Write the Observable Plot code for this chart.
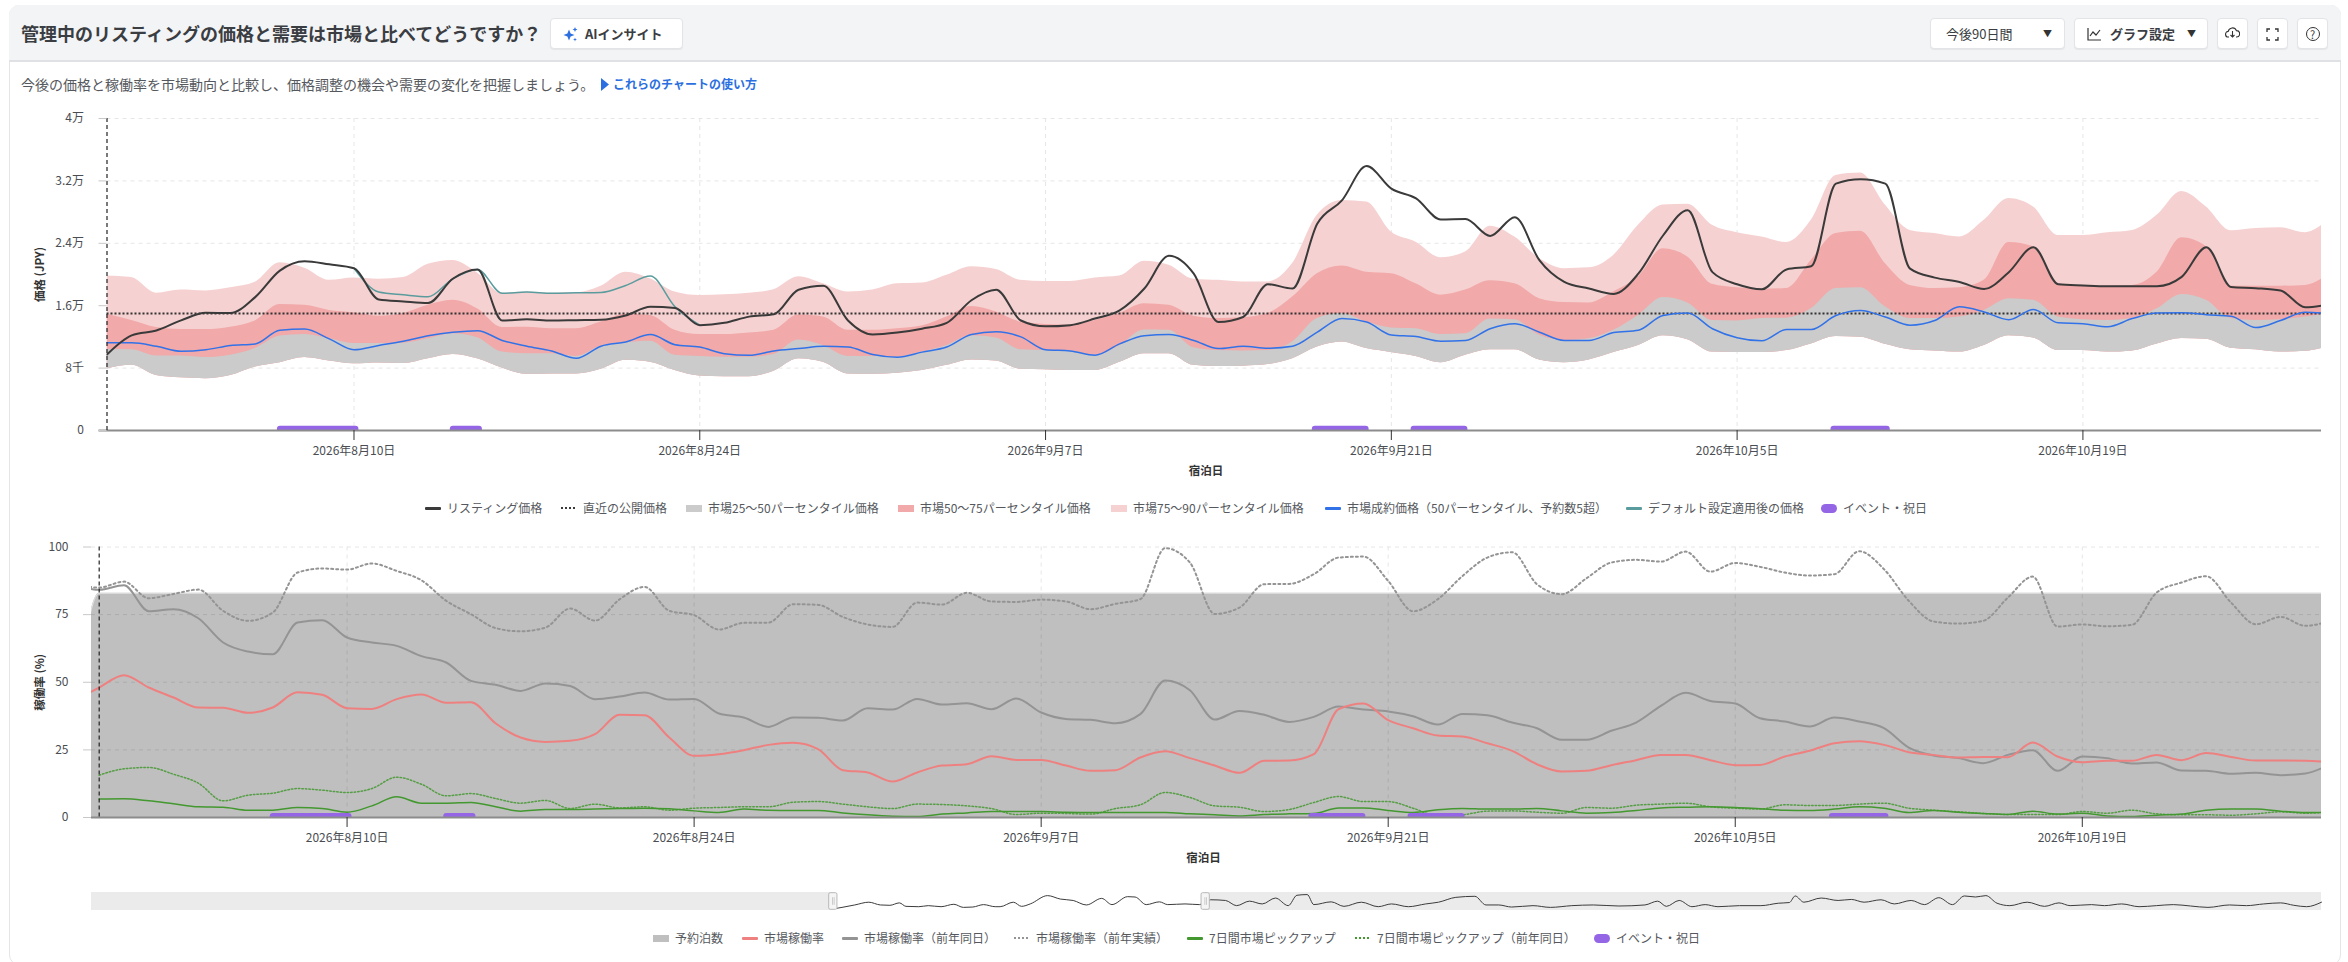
<!DOCTYPE html>
<html lang="ja">
<head>
<meta charset="utf-8">
<title>価格と需要</title>
<script src="https://cdn.jsdelivr.net/npm/d3@7"></script>
<script src="https://cdn.jsdelivr.net/npm/@observablehq/plot@0.6"></script>
<style>
*{box-sizing:border-box}
html,body{margin:0;padding:0;background:#fff;overflow:hidden}
body{font-family:"Noto Sans CJK JP","Noto Sans",sans-serif;color:#3c3f44}
#page{position:relative;width:2348px;height:962px;overflow:hidden}
#card{position:absolute;left:9px;top:5px;width:2332px;height:960px;border:1px solid #e3e5e8;border-radius:10px;overflow:hidden}
#head{position:absolute;left:0;top:0;width:100%;height:57px;background:#f3f4f6;border-bottom:2px solid #dfe1e5}
.abs{position:absolute;white-space:nowrap}
#title{left:21px;top:20px;font-size:18px;font-weight:700;line-height:26px;color:#3a3d42}
.btn{position:absolute;top:18px;height:31px;background:#fff;border:1px solid #e2e4e8;border-radius:4px;box-shadow:0 1px 1px rgba(0,0,0,.06);font-size:13px;line-height:29px;color:#3a3d42;white-space:nowrap}
#sub{left:21px;top:73px;font-size:14px;line-height:22px;color:#55585d}
#link{left:601px;top:74px;font-size:12px;line-height:20px;font-weight:700;color:#2b6fe0}
.legend{position:absolute;left:0;width:2348px;height:16px;font-size:12px;line-height:16px;color:#55585d;white-space:nowrap}
.legend .it{position:absolute;top:0;display:flex;align-items:center;height:16px}
.legend .sw{display:inline-block;width:16px;margin-right:6px}
.plotbox{position:absolute;left:0}
.plotbox svg{display:block;background:transparent;max-width:none}
</style>
</head>
<body>
<div id="page">
  <div id="card"></div>
  <div id="head" style="left:9px;top:5px;width:2332px;position:absolute;height:57px;border-radius:10px 10px 0 0"></div>
  <div class="abs" id="title">管理中のリスティングの価格と需要は市場と比べてどうですか？</div>
  <div class="btn" style="left:550px;width:133px;padding-left:12px"><svg width="15" height="15" viewBox="0 0 15 15" style="vertical-align:-3px"><path d="M6 2.5L7.6 6.4L11.5 8L7.6 9.6L6 13.5L4.4 9.6L0.5 8L4.4 6.4Z" fill="#2b6fe0"/><path d="M12 0L12.7 1.8L14.5 2.5L12.7 3.2L12 5L11.3 3.2L9.5 2.5L11.3 1.8Z" fill="#2b6fe0"/><path d="M12 10.5L12.5 11.9L14 12.5L12.5 13.1L12 14.5L11.5 13.1L10 12.5L11.5 11.9Z" fill="#2b6fe0"/></svg><span style="margin-left:7px;font-weight:600">AIインサイト</span></div>
  <div class="btn" style="left:1930px;width:135px;padding-left:15px">今後90日間<span style="position:absolute;left:112px;font-size:9px;color:#333">▼</span></div>
  <div class="btn" style="left:2074px;width:134px;padding-left:12px">
    <svg width="15" height="14" viewBox="0 0 15 14" style="vertical-align:-2px"><path d="M1 1V13H14M3 9L6 5L9 8L13 3" fill="none" stroke="#333" stroke-width="1.2"/></svg>
    <span style="margin-left:5px;font-weight:700">グラフ設定</span><span style="position:absolute;left:112px;font-size:9px;color:#333">▼</span></div>
  <div class="btn" style="left:2217px;width:31px;text-align:center"><svg width="15" height="13" viewBox="0 0 15 13"><path d="M4 11H3.5A2.8 2.8 0 0 1 3.2 5.4A4.3 4.3 0 0 1 11.4 4.6A3.2 3.2 0 0 1 11.5 11H11M7.5 5V11M5.5 9L7.5 11L9.5 9" fill="none" stroke="#333" stroke-width="1.1"/></svg></div>
  <div class="btn" style="left:2257px;width:31px;text-align:center"><svg width="13" height="13" viewBox="0 0 13 13" style="vertical-align:-2px"><path d="M1 4V1H4M9 1H12V4M12 9V12H9M4 12H1V9" fill="none" stroke="#333" stroke-width="1.3"/></svg></div>
  <div class="btn" style="left:2297px;width:31px;text-align:center;font-size:11px"><span style="display:inline-block;width:14px;height:14px;border:1.2px solid #333;border-radius:50%;line-height:12px;vertical-align:-1px">?</span></div>
  <div class="abs" id="sub">今後の価格と稼働率を市場動向と比較し、価格調整の機会や需要の変化を把握しましょう。</div>
  <div class="abs" id="link"><svg width="8" height="13" viewBox="0 0 8 13" style="vertical-align:-2px;margin-right:4px"><path d="M0 0L8 6.5L0 13Z" fill="#2b6fe0"/></svg>これらのチャートの使い方</div>

  <div class="plotbox" id="priceBox" style="top:100px"></div>
  <div class="legend" id="priceLegend" style="top:500px"></div>
  <div class="plotbox" id="occBox" style="top:530px"></div>
  <div class="plotbox" id="navBox" style="top:892px"></div>
  <div class="legend" id="occLegend" style="top:930px"></div>
</div>

<script>
// ---------- dates ----------
const start = new Date(2026, 6, 31);
const day = n => new Date(+start + n * 864e5);
const days0 = d3.range(0, 91).map(day);      // 7/31 .. 10/29
const daysM1 = d3.range(-1, 91).map(day);    // 7/30 .. 10/29
const xTicks = [new Date(2026,7,10), new Date(2026,7,24), new Date(2026,8,7), new Date(2026,8,21), new Date(2026,9,5), new Date(2026,9,19)];
const xTickFormat = d => `${d.getFullYear()}年${d.getMonth()+1}月${d.getDate()}日`;

// ---------- price chart (thousand JPY) ----------
const priceTicks = [0, 8, 16, 24, 32, 40];
const priceTickLabels = ["0", "8千", "1.6万", "2.4万", "3.2万", "4万"];

const listingPrice = [
  9.75,12.2,12.83,14.12,15.1,15.06,17.1,20.5,21.7,21.3,
  20.8,16.8,16.55,16.35,19.45,20.65,14.1,14.25,14.1,14.15,
  14.2,14.75,15.85,15.7,13.5,13.8,14.6,14.9,18.05,18.55,
  14.1,12.3,12.55,13.05,13.8,16.7,18.05,14.1,13.35,13.5,
  14.35,15.4,18.2,22.4,20.1,13.9,14.55,18.75,18.2,26.5,
  29.5,33.9,31.0,29.75,27.05,27.1,24.95,27.35,21.8,19.05,
  18.2,17.5,20.1,25.0,28.25,20.3,18.75,18.1,20.65,21.05,
  31.65,32.2,31.65,20.75,19.6,19.05,18.15,20.3,23.5,18.75,
  18.6,18.5,18.5,18.5,19.7,23.5,18.4,18.25,17.95,15.8,
  16.2];
const recentPublished = [15.0];
const p90 = [
  19.8,19.6,17.6,18.0,17.9,18.3,19.0,21.5,20.8,19.25,
  19.55,19.4,19.6,21.3,21.8,20.2,17.6,17.75,17.6,17.65,
  18.5,20.3,19.45,17.75,17.3,17.4,17.6,18.05,19.7,18.8,
  17.75,18.0,18.8,18.9,19.9,21.0,20.65,19.25,19.1,19.1,
  19.55,19.8,21.7,21.2,19.4,19.25,19.05,19.05,21.4,27.6,
  29.5,29.3,25.45,24.15,22.15,22.9,26.2,24.8,22.05,20.75,
  20.85,22.45,26.3,28.9,29.0,26.3,25.35,24.8,24.1,26.95,
  32.7,33.0,28.9,25.65,25.25,24.8,26.95,29.75,28.65,25.0,
  25.0,25.35,25.65,27.6,30.65,28.65,25.6,25.9,26.0,25.35,
  27.15];
const p75 = [
  14.9,14.1,13.2,12.95,12.95,13.25,14.05,16.15,16.05,15.4,
  15.1,14.65,15.0,16.05,16.7,15.6,13.2,13.25,13.05,13.05,
  13.9,14.9,14.75,12.85,12.3,12.3,12.5,12.85,14.8,14.55,
  12.85,12.85,13.05,13.4,14.55,15.9,15.2,13.9,13.6,13.5,
  14.1,15.0,16.25,16.05,14.65,14.35,14.45,15.0,17.1,20.1,
  21.1,20.3,20.1,18.8,17.35,18.0,19.2,18.8,16.9,16.4,
  16.35,17.75,19.7,23.3,22.25,18.75,18.3,18.1,18.2,21.8,
  25.25,25.55,21.4,18.6,18.2,18.3,19.25,24.1,23.55,18.8,
  18.5,18.5,18.6,20.3,24.7,23.55,18.5,18.5,18.5,18.6,
  20.1];
const p50 = [
  10.4,10.35,9.55,9.55,9.35,9.65,10.5,12.1,12.3,11.75,
  11.15,11.15,11.2,11.75,12.4,11.9,10.05,9.85,9.85,9.5,
  10.8,11.25,11.45,9.65,9.5,9.4,9.4,9.75,11.6,10.9,
  9.5,9.5,9.4,10.05,10.9,12.15,11.85,10.35,10.25,10.2,
  9.65,10.9,12.9,12.85,10.6,10.25,10.2,10.25,11.35,14.35,
  15.0,13.9,13.15,13.05,12.3,12.4,14.3,14.2,12.2,11.55,
  11.75,12.85,14.75,17.05,16.35,14.1,14.05,14.35,14.4,15.6,
  18.2,18.3,15.85,14.35,14.35,14.55,15.4,16.9,16.7,14.55,
  14.2,14.1,14.35,15.6,17.45,16.7,14.35,14.1,14.2,14.55,
  15.0];
const p25 = [
  7.9,8.35,7.05,6.75,6.65,7.05,8.15,8.7,9.35,8.9,
  8.55,8.65,8.6,9.2,9.75,9.2,8.0,7.2,7.25,7.25,
  7.85,9.0,8.75,7.7,7.0,6.9,6.9,7.6,9.2,8.75,
  7.25,7.2,7.35,7.7,8.35,9.05,8.9,7.85,7.8,7.7,
  7.7,8.75,9.85,9.85,8.35,8.2,8.25,8.45,9.2,10.7,
  11.35,10.5,10.0,9.5,8.7,9.65,10.35,10.35,9.05,8.7,
  9.05,10.0,10.9,12.15,11.65,10.05,10.0,10.0,10.25,11.1,
  12.05,11.95,11.05,10.35,10.2,10.05,10.9,12.15,11.85,10.25,
  10.25,10.05,10.2,11.1,11.8,11.7,10.55,10.35,10.05,10.15,
  10.8];
const marketBooked = [
  11.25,11.25,10.8,10.15,10.35,10.9,11.1,12.85,13.0,11.75,
  10.35,10.9,11.45,12.15,12.6,12.8,11.55,10.8,10.2,9.25,
  10.8,11.35,12.3,11.0,10.7,9.85,9.65,10.2,10.5,10.8,
  10.7,9.75,9.4,10.05,10.7,12.3,12.65,12.0,10.35,10.2,
  9.65,11.1,12.15,12.3,11.55,10.5,10.8,10.55,10.8,12.6,
  14.35,13.9,12.25,12.05,11.45,11.55,13.05,13.7,12.6,11.55,
  11.55,12.55,12.85,14.75,15.05,13.05,11.9,11.5,12.95,12.95,
  14.75,15.4,14.55,13.5,14.1,15.85,15.2,14.2,15.5,13.8,
  13.7,13.3,14.35,15.05,15.1,14.85,14.65,13.2,14.1,15.15,
  15.0];
const defaultDaysFrom = 10;
const defaultPrice = [20.8,17.75,17.4,17.15,19.45,20.65,17.6,17.75,17.6,17.65,17.7,18.6,19.8,15.85,13.5];
const defaultDays = defaultPrice.map((_, i) => day(defaultDaysFrom + i));

// ---------- events ----------
const eventStart = [6.9, 13.9, 48.8, 52.8, 69.8];
const eventEnd = [10.2, 15.2, 51.1, 55.1, 72.2];

// ---------- occupancy chart (%) ----------
const occTicks = [0, 25, 50, 75, 100];
const bookedDays = [-1, 0, 90].map(day);
const bookedNights = [38, 82.9, 82.9];
const marketOcc = [
  43.1,
  48.05,52.6,48.05,44.35,40.65,40.55,38.7,40.65,46.3,45.35,
  40.4,40.15,43.75,45.45,42.4,42.6,34.75,29.55,27.95,28.35,
  30.8,37.95,37.8,29.55,22.8,23.4,24.9,26.85,27.6,25.25,
  17.5,16.65,13.3,16.65,19.2,19.7,22.65,21.3,21.3,19.2,
  17.25,17.5,22.2,24.5,21.95,19.2,16.5,20.95,21.05,23.4,
  40.05,42.15,36.0,33.0,30.3,29.95,27.45,24.65,19.7,17.0,
  17.25,19.35,21.2,23.15,23.15,21.2,19.35,19.45,22.55,24.65,
  27.45,28.2,26.85,24.15,23.15,22.2,22.4,22.3,27.7,22.55,
  20.45,20.95,20.95,23.15,21.2,23.8,22.4,21.05,21.05,20.95,
  20.55];
const marketOccLY = [
  86.25,
  84.15,85.85,76.25,77.0,73.65,64.7,61.35,60.35,72.05,72.95,
  66.55,64.7,63.45,59.65,57.3,50.5,49.05,46.8,49.55,48.65,
  43.75,44.7,46.2,43.6,43.85,38.45,36.95,33.5,36.95,36.85,
  35.85,40.4,39.9,43.85,41.75,42.25,40.05,44.0,38.8,36.45,
  36.1,34.85,38.2,50.65,47.05,36.2,39.4,37.95,35.35,37.2,
  41.0,39.9,39.2,37.45,34.35,38.3,37.8,35.1,33.0,28.7,
  28.7,32.05,35.1,41.25,46.1,43.1,42.15,36.7,35.5,33.65,
  36.95,35.5,33.0,25.85,22.9,21.95,20.1,23.15,24.9,17.25,
  22.55,21.95,19.95,20.35,17.35,17.25,16.15,16.5,15.65,16.25,
  19.7];
const marketOccLYActual = [
  86.25,
  85.0,87.2,81.05,82.65,84.25,76.4,72.7,75.75,90.55,92.05,
  91.65,93.9,91.15,87.7,80.1,75.15,70.0,68.85,70.2,77.25,
  72.8,80.7,85.25,76.4,74.8,69.5,71.95,72.05,78.85,78.6,
  74.15,71.35,70.45,79.45,78.7,83.05,79.85,79.7,80.55,79.85,
  77.0,79.0,80.7,99.55,94.25,75.25,77.6,86.25,86.35,89.95,
  96.1,96.45,87.45,76.25,80.7,89.3,96.1,98.05,86.25,82.55,
  88.45,94.25,95.25,94.6,98.3,90.9,94.1,92.65,90.55,89.45,
  89.95,98.45,91.8,80.1,72.45,71.7,72.7,81.3,89.05,70.6,
  71.35,70.7,71.2,83.15,86.85,89.2,79.45,71.45,74.15,70.85,
  72.7];
const pickup7 = [
  6.8,6.9,6.15,5.05,3.95,3.8,2.7,2.7,3.7,3.3,
  1.95,4.3,7.65,5.3,5.3,5.55,3.95,2.35,2.95,2.95,
  3.1,3.3,3.45,3.2,2.45,1.85,3.1,2.7,2.6,2.6,
  1.7,1.0,0.5,0.35,1.25,1.7,2.2,2.2,2.2,1.95,
  1.85,1.85,1.85,1.85,1.35,1.0,0.6,1.1,1.35,1.5,
  3.55,3.55,2.6,1.85,2.85,3.35,3.1,3.1,3.35,2.45,
  1.6,1.85,2.6,3.55,3.8,3.95,3.7,3.2,2.7,2.6,
  3.1,3.95,3.45,1.85,2.6,1.95,1.5,1.1,2.35,1.25,
  1.6,0.6,0.35,0.85,1.25,2.7,3.1,3.1,2.35,1.85,
  1.85];
const pickup7LY = [
  15.65,18.0,18.5,16.0,12.7,6.15,8.25,9.0,10.7,10.1,
  9.25,10.7,14.9,12.3,8.0,8.85,7.0,5.3,6.3,3.3,
  4.95,3.55,3.95,2.7,3.45,3.7,3.95,3.95,5.65,5.9,
  4.95,3.95,3.3,4.95,4.8,4.3,3.3,1.1,1.6,1.5,
  1.25,3.3,4.7,9.25,7.4,4.3,3.8,2.2,2.95,5.55,
  7.75,5.9,5.9,3.45,0.6,1.0,2.35,2.45,1.95,1.6,
  3.7,3.45,4.55,4.95,5.3,3.95,3.45,3.1,4.7,4.45,
  4.45,4.95,5.3,3.45,2.7,2.1,1.5,1.1,1.1,1.1,
  2.2,1.6,2.7,1.35,1.0,1.0,0.85,1.35,2.1,1.6,
  2.1];

// ---------- range navigator ----------
const navOffsets = [0.6,2.1,5.2,8.6,11.4,13.7,16,17.6,20.7,23,26.1,29.2,31.5,33.8,36.4,39.2,
  40.4,43.6,45.6,47.7,51.9,55,58.1,61.3,65,67.5,71.3,73.1,75.8,79,81,85.2,88.7,
  91.4,95,97.7,100.8,103.9,107.1,110.2,112.3,114.8,116.4,120.6,123.7,127.9,132,135.2,139.3,143.5,146.6,150.8,155.4,158.1,161.2,164.3,169.5,173.7,178.9,184.1,190.3,196.6,199.7,201.8,204.9,208,211.2,214.3,219.5,224.7,228.9,231.6,233,235.1,239.3,243.4,246.6,249.7,253.8,257,261.1,264.3,267.8,271.1,274,276.7,279.2,281.9,285,289.2,293.4,296.9,299.6,304.8,307.9,312.1,316.3,320.5,324.6,328.8,333,338.2,342.3,346.5,350.6,353.8,356.9,360.5];
const navValues = [6,9,16,24,16,15,22,12,11,14,11,18,9,10,17,11,
  11,24,12,19,43,33,29,16,35,17,40,39,17,25,17,19,17,
  31,29,14,27,19,36,14,44,46,17,25,12,24,11,19,11,19,24,38,41,16,16,10,14,9,14,16,13,16,27,12,29,11,17,11,14,14,21,23,42,24,36,29,32,24,31,19,29,17,37,17,42,39,43,21,14,24,12,22,14,17,14,19,11,14,17,13,9,16,14,19,22,15,11,24];

// ---------- legends ----------
const priceLegendItems = [
  ["line","#3a3a3a","リスティング価格"],["dot","#3a3a3a","直近の公開価格"],["fill","#cbcbcb","市場25～50パーセンタイル価格"],
  ["fill","#f1a9a9","市場50～75パーセンタイル価格"],["fill","#f6d1d1","市場75～90パーセンタイル価格"],
  ["line","#3272e8","市場成約価格（50パーセンタイル、予約数5超）"],["line","#5a9c9e","デフォルト設定適用後の価格"],["pill","#9466e6","イベント・祝日"]];
const priceLegendLeft = [425, 561, 686, 898, 1111, 1325, 1626, 1821];
const occLegendItems = [
  ["fill","#bfbfbf","予約泊数"],["line","#ee8080","市場稼働率"],["line","#949494","市場稼働率（前年同日）"],
  ["dot","#949494","市場稼働率（前年実績）"],["line","#43982f","7日間市場ピックアップ"],["dot","#43982f","7日間市場ピックアップ（前年同日）"],["pill","#9466e6","イベント・祝日"]];
const occLegendLeft = [653, 742, 842, 1014, 1187, 1355, 1594];

const FONT = '"Noto Sans CJK JP","Noto Sans",sans-serif';
const COLORS = {black:"#3a3a3a", blue:"#3272e8", teal:"#5a9c9e", red:"#ee8080", gray:"#949494", green:"#43982f", purple:"#9466e6",
  grid:"#e6e6e6", c25:"#cbcbcb", c50:"#f1a9a9", c75:"#f6d1d1", axis:"#8c8c8c"};
const CURVE = "monotone-x";
const gridStyle = {stroke: COLORS.grid, strokeOpacity: 1, strokeDasharray: "4 4", strokeWidth: 1};

function swatch(type, color) {
  const base = 'class="sw" style="';
  if (type === "line") return `<span ${base}height:3px;background:${color};border-radius:1px"></span>`;
  if (type === "fill") return `<span ${base}height:7px;background:${color}"></span>`;
  if (type === "pill") return `<span ${base}height:9px;background:${color};border-radius:5px"></span>`;
  return `<span ${base}height:2px;background:repeating-linear-gradient(90deg,${color} 0 2px,transparent 2px 4px)"></span>`;
}
function fillLegend(id, items, lefts) {
  document.getElementById(id).innerHTML = items.map(([t, c, s], i) =>
    `<span class="it" style="left:${lefts[i]}px">${swatch(t, c)}<span>${s}</span></span>`).join("");
}
fillLegend("priceLegend", priceLegendItems, priceLegendLeft);
fillLegend("occLegend", occLegendItems, occLegendLeft);

function axisBits(yTicks, yFormat, xTitleDay, yTitle, yTitleDx, titleDy) {
  return [
    Plot.axisY({ticks: yTicks, tickFormat: yFormat, tickSize: 8, tickPadding: 15, stroke: "#c8c8c8", fill: "#4a4d52", label: null, fontSize: 12}),
    Plot.axisX({ticks: xTicks, tickFormat: xTickFormat, tickSize: 10, tickPadding: 6, stroke: "#333", fill: "#4a4d52", label: null, fontSize: 12}),
    Plot.text([yTitle], {frameAnchor: "left", dx: yTitleDx, rotate: -90, textAnchor: "middle", fontWeight: 700, fontSize: 11.5, fill: "#333"}),
    Plot.text(["宿泊日"], {x: () => day(xTitleDay), frameAnchor: "bottom", dy: titleDy, fontWeight: 700, fontSize: 11.5, fill: "#333"})
  ];
}
function eventBars(h) {
  return Plot.rect(eventStart, {
    x1: eventStart.map(day), x2: eventEnd.map(day), y1: 0, y2: h,
    fill: COLORS.purple, rx1y2: 3, rx2y2: 3
  });
}

// ---------- price chart ----------
const priceChart = Plot.plot({
  width: 2348, height: 400, marginTop: 18, marginBottom: 70, marginLeft: 106.5, marginRight: 27,
  style: {fontFamily: FONT, fontSize: "12px", background: "transparent"},
  x: {type: "time", domain: [day(0), day(89.66)]},
  y: {domain: [0, 40]},
  marks: [
    Plot.gridY(priceTicks.slice(1), gridStyle),
    Plot.gridX(xTicks, gridStyle),
    Plot.areaY(days0, {x: d => d, y1: p25, y2: p90, fill: COLORS.c75, curve: CURVE, clip: true}),
    Plot.areaY(days0, {x: d => d, y1: p25, y2: p75, fill: COLORS.c50, curve: CURVE, clip: true}),
    Plot.areaY(days0, {x: d => d, y1: p25, y2: p50, fill: COLORS.c25, curve: CURVE, clip: true}),
    Plot.ruleY(recentPublished, {stroke: "#333", strokeWidth: 2, strokeDasharray: "2 2"}),
    Plot.line(defaultDays, {x: d => d, y: defaultPrice, stroke: COLORS.teal, strokeWidth: 1.5, curve: CURVE}),
    Plot.line(days0, {x: d => d, y: marketBooked, stroke: COLORS.blue, strokeWidth: 1.5, curve: CURVE, clip: true}),
    Plot.line(days0, {x: d => d, y: listingPrice, stroke: COLORS.black, strokeWidth: 2, curve: CURVE, clip: true}),
    eventBars(0.55),
    Plot.ruleY([0], {stroke: COLORS.axis, strokeWidth: 2, insetLeft: -8}),
    Plot.ruleX([day(0)], {stroke: "#222", strokeWidth: 1.2, strokeDasharray: "4 3"}),
    ...axisBits(priceTicks, d => priceTickLabels[priceTicks.indexOf(d)], 44.5, "価格 (JPY)", -67, 44)
  ]
});
document.getElementById("priceBox").appendChild(priceChart);

// ---------- occupancy chart ----------
const occChart = Plot.plot({
  width: 2348, height: 340, marginTop: 16.5, marginBottom: 53, marginLeft: 91, marginRight: 27,
  style: {fontFamily: FONT, fontSize: "12px", background: "transparent"},
  x: {type: "time", domain: [day(-0.31), day(89.65)]},
  y: {domain: [0, 100]},
  marks: [
    Plot.gridY(occTicks.slice(1), gridStyle),
    Plot.gridX(xTicks, gridStyle),
    Plot.areaY(bookedDays, {x: d => d, y1: 0, y2: bookedNights, fill: "#000", fillOpacity: 0.25, curve: CURVE, clip: true}),
    Plot.line(bookedDays, {x: d => d, y: bookedNights, stroke: "#e4e4e4", strokeWidth: 1, curve: CURVE, clip: true}),
    Plot.line(daysM1, {x: d => d, y: marketOccLYActual, stroke: COLORS.gray, strokeWidth: 2, strokeDasharray: "2 3", curve: CURVE, clip: true}),
    Plot.line(daysM1, {x: d => d, y: marketOccLY, stroke: COLORS.gray, strokeWidth: 2, curve: CURVE, clip: true}),
    Plot.line(daysM1, {x: d => d, y: marketOcc, stroke: COLORS.red, strokeWidth: 2, curve: CURVE, clip: true}),
    Plot.line(days0, {x: d => d, y: pickup7LY, stroke: COLORS.green, strokeWidth: 1.5, strokeDasharray: "1.5 2", strokeOpacity: 0.85, curve: CURVE, clip: true}),
    Plot.line(days0, {x: d => d, y: pickup7, stroke: COLORS.green, strokeWidth: 1.5, curve: CURVE, clip: true}),
    eventBars(1.5),
    Plot.ruleY([0], {stroke: COLORS.axis, strokeWidth: 2}),
    Plot.ruleX([day(0)], {stroke: "#222", strokeWidth: 1.2, strokeDasharray: "4 3"}),
    ...axisBits(occTicks, d => String(d), 44.55, "稼働率 (%)", -51, 44)
  ]
});
document.getElementById("occBox").appendChild(occChart);

// ---------- navigator ----------
const navDomain = [day(-179.7), day(360.5)];
const navChart = Plot.plot({
  width: 2348, height: 18, marginTop: 0, marginBottom: 0, marginLeft: 91, marginRight: 27,
  style: {background: "transparent"},
  x: {type: "time", domain: navDomain, axis: null},
  y: {domain: [0, 52], axis: null},
  marks: [
    Plot.rect([0, 1], {x1: [navDomain[0], day(90.2)], x2: [day(0), navDomain[1]], y1: 0, y2: 52, fill: "#ebebeb"}),
    Plot.line(navOffsets, {x: navOffsets.map(day), y: navValues, stroke: "#3c3c3c", strokeWidth: 1, curve: CURVE}),
    Plot.rect([0, 90], {x1: [day(-1), day(89.2)], x2: [day(1), day(91.2)], y1: 2, y2: 50, fill: "#f5f5f5", stroke: "#b8b8b8", strokeWidth: 1, rx: 1.5}),
    Plot.ruleX([day(-0.2), day(0.2), day(90), day(90.4)], {y1: 15, y2: 37, stroke: "#b0b0b0", strokeWidth: 0.6})
  ]
});
document.getElementById("navBox").appendChild(navChart);
</script>
</body>
</html>
